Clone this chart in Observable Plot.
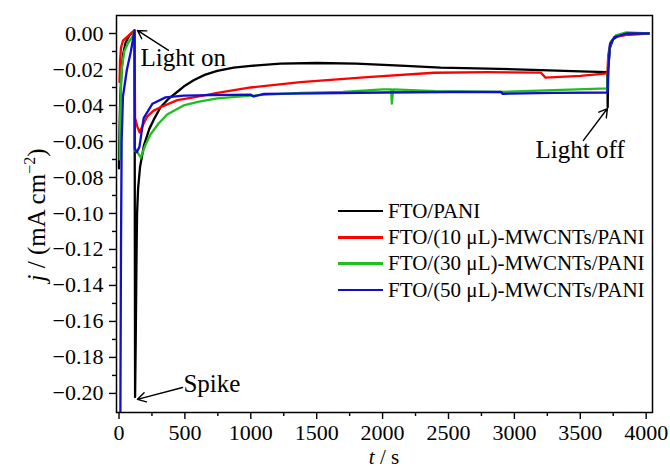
<!DOCTYPE html>
<html>
<head>
<meta charset="utf-8">
<script src="https://cdn.jsdelivr.net/npm/d3@7"></script>
<script src="https://cdn.jsdelivr.net/npm/@observablehq/plot@0.6"></script>
<style>
  html, body { margin: 0; padding: 0; background: #ffffff; }
  #wrap { position: relative; width: 670px; height: 469px; overflow: hidden; }
  #wrap svg { display: block; background: #f8f8f8; box-shadow: inset 10px 12px 0 0 #ffffff; }
  #legend { position: absolute; left: 338px; top: 198px; font-family: "Liberation Serif", "Times New Roman", serif; font-size: 21px; color: #000; }
  #legend .row { display: flex; align-items: center; height: 26.3px; white-space: nowrap; }
  #legend .sw { width: 45px; height: 2.6px; margin-right: 5px; }
</style>
</head>
<body>
<div id="wrap"><div id="legend"></div></div>
<script>
// ---- data ----
const seriesNames = ["FTO/PANI", "FTO/(10 μL)-MWCNTs/PANI", "FTO/(30 μL)-MWCNTs/PANI", "FTO/(50 μL)-MWCNTs/PANI"];
const seriesColors = ["#000000", "#ff0000", "#1fbf1f", "#1010cc"];

const tBlack = [0, 5, 10, 20, 30, 50, 80, 118, 122, 127, 132, 137, 145, 160, 190, 230, 270, 315, 380, 441, 500, 566, 650, 745, 870, 1000, 1225, 1500, 1800, 2135, 2440, 2800, 3200, 3500, 3706, 3708, 3712, 3725, 3750, 3800, 3900, 4020];
const jBlack = [-0.075, -0.05, -0.035, -0.02, -0.012, -0.005, -0.001, 0.0017, -0.202, -0.17, -0.13, -0.10, -0.086, -0.074, -0.062, -0.053, -0.047, -0.041, -0.036, -0.0325, -0.029, -0.026, -0.023, -0.0208, -0.019, -0.018, -0.0167, -0.0164, -0.0167, -0.0178, -0.019, -0.0195, -0.0203, -0.021, -0.0215, -0.041, -0.02, -0.008, -0.003, -0.001, -0.0004, 0];

const tRed = [4, 8, 15, 30, 60, 90, 118, 122, 140, 157, 180, 215, 260, 315, 443, 566, 747, 1000, 1377, 1885, 2390, 2800, 3200, 3236, 3500, 3706, 3712, 3730, 3760, 3850, 4020];
const jRed = [-0.027, -0.015, -0.008, -0.004, -0.002, 0.0, 0.0017, -0.047, -0.052, -0.055, -0.051, -0.046, -0.043, -0.041, -0.037, -0.0355, -0.033, -0.030, -0.027, -0.0243, -0.0218, -0.0215, -0.0217, -0.0245, -0.0235, -0.0222, -0.012, -0.005, -0.002, -0.0007, 0];

const tGreen = [5, 10, 20, 40, 70, 100, 118, 120, 140, 165, 200, 240, 300, 365, 490, 600, 745, 1000, 1377, 1700, 2000, 2065, 2070, 2080, 2400, 2900, 3300, 3706, 3712, 3730, 3770, 3850, 4020];
const jGreen = [-0.07, -0.04, -0.02, -0.01, -0.005, -0.002, 0.0015, -0.065, -0.066, -0.069, -0.062, -0.056, -0.05, -0.045, -0.040, -0.038, -0.036, -0.0345, -0.033, -0.0325, -0.031, -0.031, -0.039, -0.031, -0.032, -0.0325, -0.0315, -0.0305, -0.015, -0.005, -0.001, 0.0006, 0];

const tBlue = [5, 10, 15, 20, 30, 60, 90, 118, 120, 135, 155, 187, 254, 353, 490, 694, 1000, 1020, 1100, 1500, 2000, 2500, 2900, 2910, 3300, 3706, 3712, 3725, 3760, 3850, 4020];
const jBlue = [-0.23, -0.22, -0.12, -0.06, -0.035, -0.02, -0.01, 0.0017, -0.064, -0.066, -0.063, -0.047, -0.039, -0.0355, -0.0345, -0.0343, -0.034, -0.035, -0.0335, -0.0333, -0.0328, -0.0325, -0.0325, -0.0335, -0.033, -0.0328, -0.02, -0.006, -0.002, 0, 0];

const xTicks = [0, 500, 1000, 1500, 2000, 2500, 3000, 3500, 4000];
const xMinor = [250, 750, 1250, 1750, 2250, 2750, 3250, 3750];
const yTicks = [0, -0.02, -0.04, -0.06, -0.08, -0.10, -0.12, -0.14, -0.16, -0.18, -0.20];
const yMinor = [-0.01, -0.03, -0.05, -0.07, -0.09, -0.11, -0.13, -0.15, -0.17, -0.19];

// annotations: label, text anchor point (t, j), arrow start (t, j), arrow end (t, j)
const annLabels = ["Light on", "Spike", "Light off"];
const annTextT = [163, 489, 3161];
const annTextJ = [-0.0183, -0.1994, -0.0694];
const arrowT1 = [376, 482, 3524];
const arrowJ1 = [-0.0094, -0.1967, -0.0594];
const arrowT2 = [140, 140, 3706];
const arrowJ2 = [0.0017, -0.2033, -0.0417];

// ---- build tables ----
const seriesT = [tBlack, tRed, tGreen, tBlue];
const seriesJ = [jBlack, jRed, jGreen, jBlue];
const lines = seriesNames.map((name, k) => seriesT[k].map((t, i) => ({t, j: seriesJ[k][i], s: name})));
const ann = annLabels.map((label, i) => ({label, tx: annTextT[i], jx: annTextJ[i], t1: arrowT1[i], j1: arrowJ1[i], t2: arrowT2[i], j2: arrowJ2[i]}));

const fmt = d3.format(".2f");
const font = "Liberation Serif, Times New Roman, serif";

const chart = Plot.plot({
  width: 670,
  height: 469,
  marginLeft: 116,
  marginRight: 18,
  marginTop: 15,
  marginBottom: 57,
  style: {fontFamily: font, fontSize: "22px", color: "#000", background: "transparent"},
  x: {domain: [-19, 4048]},
  y: {domain: [-0.2106, 0.01]},
  color: {domain: seriesNames, range: seriesColors},
  marks: [
    ...lines.map((rows, k) => Plot.line(rows, {x: "t", y: "j", stroke: seriesColors[k], strokeWidth: 2.3, clip: true})),
    Plot.frame({stroke: "#000", strokeWidth: 1.5}),
    Plot.axisX({ticks: xTicks, tickSize: 7, tickPadding: 5, tickFormat: d => String(d), fontSize: 22, label: null, strokeWidth: 1.4}),
    Plot.axisX({ticks: xMinor, tickSize: 4, tickFormat: () => "", label: null, strokeWidth: 1.4}),
    Plot.axisY({ticks: yTicks, tickSize: 7, tickPadding: 6, tickFormat: fmt, fontSize: 22, label: null, strokeWidth: 1.4}),
    Plot.axisY({ticks: yMinor, tickSize: 4, tickFormat: () => "", label: null, strokeWidth: 1.4}),
    Plot.arrow(ann, {x1: "t1", y1: "j1", x2: "t2", y2: "j2", stroke: "#000", strokeWidth: 1.4, headLength: 10, bend: 0}),
    Plot.text(ann, {x: "tx", y: "jx", text: "label", textAnchor: "start", lineAnchor: "bottom", fontSize: 25, fill: "#000"})
  ]
});

document.getElementById("wrap").prepend(chart);

// axis titles with italic symbols and superscript
const svg = d3.select(chart);
const xt = svg.append("text").attr("x", 384).attr("y", 464).attr("text-anchor", "middle")
  .attr("font-family", font).attr("font-size", 21).attr("fill", "#000");
xt.append("tspan").attr("font-style", "italic").text("t");
xt.append("tspan").text(" / s");

const yt = svg.append("text").attr("transform", "translate(45,215) rotate(-90)").attr("text-anchor", "middle")
  .attr("font-family", font).attr("font-size", 25).attr("fill", "#000");
yt.append("tspan").attr("font-style", "italic").text("j");
yt.append("tspan").text(" / (mA cm");
yt.append("tspan").attr("font-size", 16).attr("dy", -10).text("−2");
yt.append("tspan").attr("dy", 10).text(")");

// legend
const legend = d3.select("#legend");
seriesNames.forEach((name, k) => {
  const row = legend.append("div").attr("class", "row");
  row.append("div").attr("class", "sw").style("background", seriesColors[k]);
  row.append("span").text(name);
});
</script>
</body>
</html>
